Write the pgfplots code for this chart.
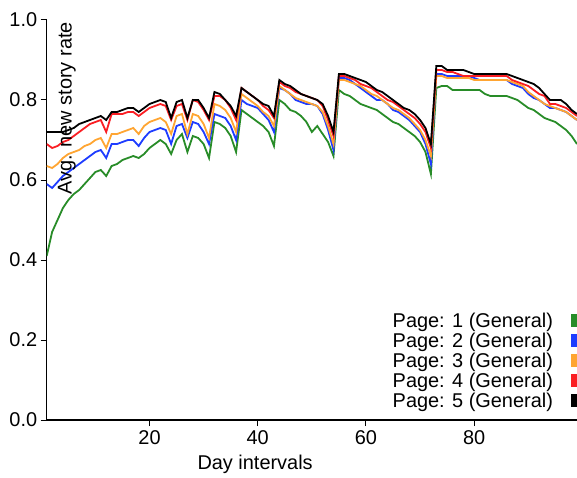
\documentclass[border=0pt]{standalone}
\usepackage{pgfplots}
\pgfplotsset{compat=1.18}
\usepackage{pgfplotstable}
\usepackage{fontspec}
\setmainfont{Liberation Sans}
\definecolor{cg}{RGB}{40,140,40}
\definecolor{cb}{RGB}{30,60,255}
\definecolor{co}{RGB}{255,165,50}
\definecolor{cr}{RGB}{250,30,35}
\pgfplotstableread{
x g b o r k
1 0.41 0.59 0.635 0.69 0.72
2 0.47 0.58 0.63 0.68 0.72
3 0.50 0.595 0.64 0.685 0.72
4 0.53 0.61 0.655 0.695 0.72
5 0.55 0.62 0.665 0.70 0.725
6 0.565 0.63 0.67 0.71 0.73
7 0.575 0.64 0.675 0.72 0.74
8 0.59 0.65 0.685 0.73 0.745
9 0.605 0.66 0.69 0.74 0.75
10 0.62 0.67 0.70 0.745 0.755
11 0.625 0.675 0.705 0.75 0.76
12 0.61 0.655 0.68 0.72 0.75
13 0.635 0.69 0.715 0.765 0.77
14 0.64 0.69 0.715 0.765 0.77
15 0.65 0.695 0.72 0.765 0.775
16 0.655 0.70 0.725 0.77 0.78
17 0.66 0.70 0.73 0.77 0.78
18 0.655 0.685 0.715 0.76 0.77
19 0.665 0.705 0.735 0.77 0.78
20 0.68 0.72 0.745 0.78 0.79
21 0.69 0.725 0.75 0.785 0.795
22 0.70 0.73 0.755 0.79 0.80
23 0.69 0.725 0.745 0.785 0.795
24 0.665 0.69 0.715 0.75 0.755
25 0.70 0.735 0.76 0.785 0.795
26 0.715 0.74 0.765 0.79 0.80
27 0.67 0.705 0.715 0.75 0.755
28 0.71 0.745 0.765 0.80 0.80
29 0.705 0.74 0.76 0.795 0.80
30 0.69 0.72 0.74 0.775 0.78
31 0.655 0.69 0.705 0.75 0.755
32 0.745 0.765 0.79 0.81 0.82
33 0.74 0.76 0.785 0.81 0.815
34 0.73 0.755 0.775 0.80 0.80
35 0.71 0.735 0.755 0.78 0.785
36 0.67 0.70 0.72 0.75 0.76
37 0.775 0.80 0.815 0.83 0.83
38 0.765 0.79 0.805 0.82 0.82
39 0.755 0.785 0.795 0.81 0.81
40 0.745 0.78 0.785 0.80 0.80
41 0.735 0.765 0.77 0.785 0.79
42 0.72 0.75 0.76 0.775 0.785
43 0.685 0.72 0.735 0.755 0.76
44 0.80 0.83 0.835 0.845 0.85
45 0.79 0.825 0.825 0.835 0.84
46 0.775 0.815 0.815 0.83 0.835
47 0.77 0.80 0.805 0.82 0.825
48 0.76 0.795 0.80 0.815 0.815
49 0.745 0.79 0.795 0.81 0.81
50 0.72 0.79 0.79 0.805 0.805
51 0.735 0.785 0.785 0.80 0.80
52 0.715 0.765 0.77 0.785 0.79
53 0.695 0.725 0.735 0.75 0.76
54 0.66 0.675 0.69 0.71 0.72
55 0.825 0.855 0.85 0.86 0.865
56 0.815 0.855 0.85 0.86 0.865
57 0.81 0.85 0.845 0.855 0.86
58 0.80 0.84 0.84 0.85 0.855
59 0.79 0.83 0.835 0.84 0.85
60 0.785 0.82 0.825 0.835 0.845
61 0.78 0.81 0.815 0.83 0.835
62 0.775 0.80 0.81 0.82 0.825
63 0.765 0.80 0.80 0.81 0.82
64 0.755 0.79 0.79 0.80 0.81
65 0.745 0.775 0.78 0.795 0.80
66 0.74 0.77 0.775 0.785 0.79
67 0.73 0.76 0.765 0.775 0.78
68 0.72 0.75 0.755 0.765 0.775
69 0.71 0.735 0.74 0.755 0.765
70 0.695 0.72 0.725 0.74 0.75
71 0.67 0.69 0.70 0.72 0.73
72 0.615 0.64 0.66 0.68 0.69
73 0.83 0.865 0.86 0.875 0.885
74 0.835 0.865 0.86 0.875 0.885
75 0.835 0.86 0.855 0.87 0.875
76 0.825 0.86 0.855 0.87 0.875
77 0.825 0.86 0.855 0.865 0.875
78 0.825 0.86 0.855 0.86 0.875
79 0.825 0.86 0.855 0.86 0.87
80 0.825 0.855 0.85 0.86 0.865
81 0.825 0.85 0.85 0.86 0.865
82 0.815 0.85 0.85 0.86 0.865
83 0.81 0.85 0.85 0.86 0.865
84 0.81 0.85 0.85 0.86 0.865
85 0.81 0.85 0.85 0.86 0.865
86 0.81 0.85 0.85 0.86 0.865
87 0.805 0.84 0.845 0.85 0.86
88 0.80 0.835 0.84 0.845 0.855
89 0.79 0.83 0.835 0.84 0.85
90 0.78 0.815 0.82 0.835 0.845
91 0.775 0.805 0.81 0.825 0.84
92 0.765 0.80 0.80 0.815 0.83
93 0.755 0.79 0.79 0.81 0.815
94 0.75 0.78 0.785 0.79 0.80
95 0.745 0.78 0.78 0.79 0.80
96 0.735 0.775 0.775 0.785 0.80
97 0.725 0.77 0.77 0.78 0.79
98 0.71 0.76 0.76 0.77 0.775
99 0.69 0.75 0.75 0.76 0.765
}\data
\begin{document}
\begin{tikzpicture}
\begin{axis}[
  name=ax,
  scale only axis,
  width=530.3bp, height=400bp,
  xmin=1, xmax=99, ymin=0, ymax=1,
  axis lines=left,
  axis line style={-, line width=1.2bp, black},
  every tick/.style={black, line width=1bp},
  tick align=outside,
  major tick length=6bp,
  xtick={20,40,60,80},
  ytick={0,0.2,0.4,0.6,0.8,1.0},
  font=\fontsize{20}{22}\selectfont,
  /pgf/number format/assume math mode=true,
  yticklabel style={/pgf/number format/.cd, fixed, fixed zerofill, precision=1},
  xticklabel style={yshift=-1bp},
  xlabel={Day intervals},
  xlabel style={at={(axis description cs:0.393,0)}, anchor=north, yshift=-35bp, inner sep=0pt},
  ylabel={Avg. new story rate},
  ylabel style={at={(axis description cs:0,1)}, anchor=north east, xshift=-2bp, yshift=-11bp, inner sep=0pt},
  legend plot pos=right,
  legend cell align=right,
  legend style={draw=none, fill=none, at={(axis cs:100.1,0.2675)}, anchor=north east,
    inner sep=0pt, row sep=0pt, column sep=18bp,
    nodes={inner sep=0pt, text height=14bp, text depth=6bp}},
  legend image code/.code={\fill[#1] (0bp,-3bp) rectangle (10bp,8bp);},
  every axis plot/.append style={line width=1.8bp},
  clip=true,
]
\addplot[cg] table[x=x,y=g]{\data};
\addplot[cb] table[x=x,y=b]{\data};
\addplot[co] table[x=x,y=o]{\data};
\addplot[cr] table[x=x,y=r]{\data};
\addplot[black] table[x=x,y=k]{\data};
\legend{Page: 1 (General),Page: 2 (General),Page: 3 (General),Page: 4 (General),Page: 5 (General)}
\end{axis}
\pgfresetboundingbox
\path ([xshift=-46.7bp,yshift=-57bp]ax.south west) rectangle ([yshift=20bp]ax.north east);
\end{tikzpicture}
\end{document}
